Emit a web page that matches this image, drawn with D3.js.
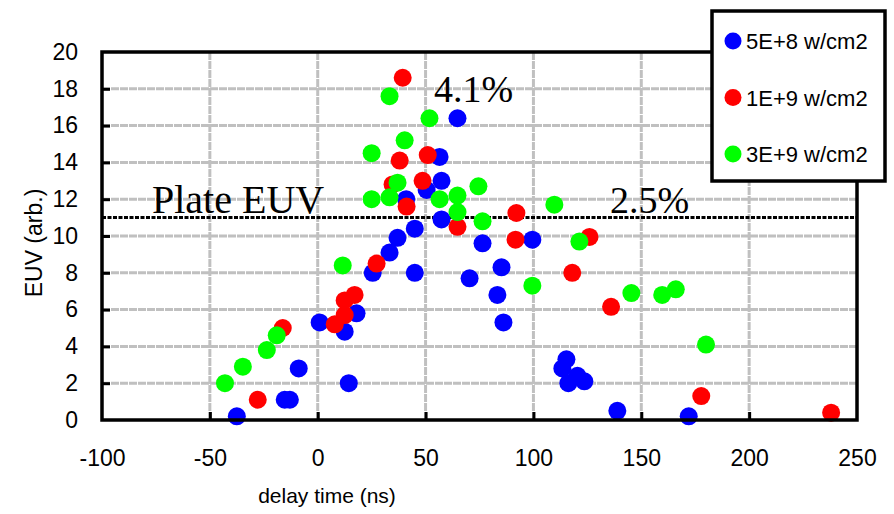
<!DOCTYPE html>
<html>
<head>
<meta charset="utf-8">
<script src="https://cdn.jsdelivr.net/npm/d3@7"></script>
<style>
  body { margin: 0; background: #fff; }
  svg text { font-family: "Liberation Sans", Arial, sans-serif; fill: #000; }
  .note { font-family: "Liberation Serif", "Times New Roman", serif; }
</style>
</head>
<body>
<svg id="chart" width="894" height="514"></svg>
<script>
// data: [delay time (ns), EUV (arb.)]
var blueData = [[-37.5,0.2],[-8.8,2.8],[-15.3,1.1],[-12.9,1.1],[0.9,5.3],[14.4,2.0],[12.5,4.8],[18,5.8],
  [25.5,8.0],[33.3,9.1],[37,9.9],[45,10.4],[45,8.0],[41,12.0],[50.5,12.5],[57.4,13.0],[57.4,10.9],
  [56.5,14.3],[64.8,16.4],[70.4,7.7],[76.4,9.6],[85.2,8.3],[83.3,6.8],[86.1,5.3],[99.5,9.8],
  [115.3,3.3],[113.4,2.8],[120.4,2.4],[116.2,2.0],[123.6,2.1],[138.9,0.5],[172,0.2]];
var redData = [[-27.8,1.1],[-16.2,5.0],[7.9,5.2],[12.5,5.7],[12.5,6.5],[17.1,6.8],[27.3,8.5],[34.7,12.8],
  [41.2,11.6],[38,14.1],[39.4,18.6],[48.6,13.0],[51,14.4],[64.8,10.5],[92.1,11.25],[91.7,9.8],
  [118,8.0],[126,9.95],[136,6.15],[177.8,1.3],[238,0.4]];
var greenData = [[-43,2.0],[-34.7,2.9],[-23.6,3.8],[-19,4.6],[11.6,8.4],[25,12.0],[33.3,12.1],[37,12.9],
  [25,14.5],[40.3,15.2],[33.3,17.6],[51.8,16.4],[56.5,12.0],[64.8,12.2],[64.8,11.3],[74.5,12.7],
  [76.4,10.8],[109.7,11.7],[121.3,9.7],[99.5,7.3],[145.4,6.9],[159.7,6.8],[166,7.1],[180,4.1]];

var seriesNames = ["5E+8 w/cm2", "1E+9 w/cm2", "3E+9 w/cm2"];
var seriesColors = ["#0000ff", "#ff0000", "#00ff00"];
var xTicks = [-100, -50, 0, 50, 100, 150, 200, 250];
var yTicks = [0, 2, 4, 6, 8, 10, 12, 14, 16, 18, 20];
var plateLevel = 11;

var svg = d3.select("#chart");
var x = d3.scaleLinear().domain([-100, 250]).range([102, 857]);
var y = d3.scaleLinear().domain([0, 20]).range([420, 52]);
var plainNum = function(d){ return String(d); };  // hyphen minus like the original

// grid
var grid = svg.append("g");
grid.selectAll("line.h").data(yTicks.slice(1, -1)).enter().append("line")
  .attr("x1", x(-100)).attr("x2", x(250))
  .attr("y1", function(d){ return y(d); }).attr("y2", function(d){ return y(d); });
grid.selectAll("line.v").data(xTicks.slice(1, -1)).enter().append("line")
  .attr("y1", y(0)).attr("y2", y(20))
  .attr("x1", function(d){ return x(d); }).attr("x2", function(d){ return x(d); });
grid.selectAll("line").attr("stroke", "#c0c0c0").attr("stroke-width", 3)
  .attr("stroke-dasharray", "8,1");

// plate EUV reference
svg.append("line")
  .attr("x1", x(-100)).attr("x2", x(250))
  .attr("y1", y(plateLevel)).attr("y2", y(plateLevel))
  .attr("stroke", "#000").attr("stroke-width", 3).attr("stroke-dasharray", "4,1.5");

svg.append("text").attr("class", "note").attr("x", 152).attr("y", 213)
  .style("font-size", "40px").text("Plate EUV");
svg.append("text").attr("class", "note").attr("x", 434).attr("y", 102)
  .style("font-size", "38px").text("4.1%");
svg.append("text").attr("class", "note").attr("x", 610).attr("y", 213)
  .style("font-size", "38px").text("2.5%");

// points
var allSeries = [blueData, redData, greenData];
allSeries.forEach(function(data, i){
  svg.append("g").selectAll("circle").data(data).enter().append("circle")
    .attr("cx", function(d){ return x(d[0]); })
    .attr("cy", function(d){ return y(d[1]); })
    .attr("r", 9)
    .attr("fill", seriesColors[i]);
});

// axes
var yAxis = svg.append("g").attr("transform", "translate(" + x(-100) + ",0)")
  .call(d3.axisLeft(y).tickValues(yTicks).tickFormat(plainNum).tickSize(-8).tickPadding(24));
var xAxis = svg.append("g").attr("transform", "translate(0," + y(0) + ")")
  .call(d3.axisBottom(x).tickValues(xTicks).tickFormat(plainNum).tickSize(-8).tickPadding(30));
[xAxis, yAxis].forEach(function(a){
  a.select(".domain").remove();
  a.selectAll("line").attr("stroke", "#000").attr("stroke-width", 3);
  a.selectAll("text").style("font-size", "23px").style("font-family", "'Liberation Sans', Arial, sans-serif");
});
xAxis.selectAll(".tick").filter(function(d){ return d === -100 || d === 250; }).select("line").remove();
yAxis.selectAll(".tick").filter(function(d){ return d === 0 || d === 20; }).select("line").remove();

// frame
svg.append("rect")
  .attr("x", x(-100)).attr("y", y(20))
  .attr("width", x(250) - x(-100)).attr("height", y(0) - y(20))
  .attr("fill", "none").attr("stroke", "#000").attr("stroke-width", 3.5);

// axis titles
svg.append("text").attr("transform", "translate(42,243) rotate(-90)")
  .attr("text-anchor", "middle").style("font-size", "23px").text("EUV (arb.)");
svg.append("text").attr("x", 327).attr("y", 503)
  .attr("text-anchor", "middle").style("font-size", "21px").text("delay time (ns)");

// legend
var legend = svg.append("g");
legend.append("rect").attr("x", 712).attr("y", 11).attr("width", 173).attr("height", 170)
  .attr("fill", "#fff").attr("stroke", "#000").attr("stroke-width", 3.5);
var rows = legend.selectAll("g.row").data(seriesNames).enter().append("g")
  .attr("transform", function(d, i){ return "translate(0," + (41 + i * 56.5) + ")"; });
rows.append("circle").attr("cx", 733).attr("cy", 0).attr("r", 8.5)
  .attr("fill", function(d, i){ return seriesColors[i]; });
rows.append("text").attr("x", 746).attr("y", 8).style("font-size", "22px")
  .text(function(d){ return d; });
</script>
</body>
</html>
